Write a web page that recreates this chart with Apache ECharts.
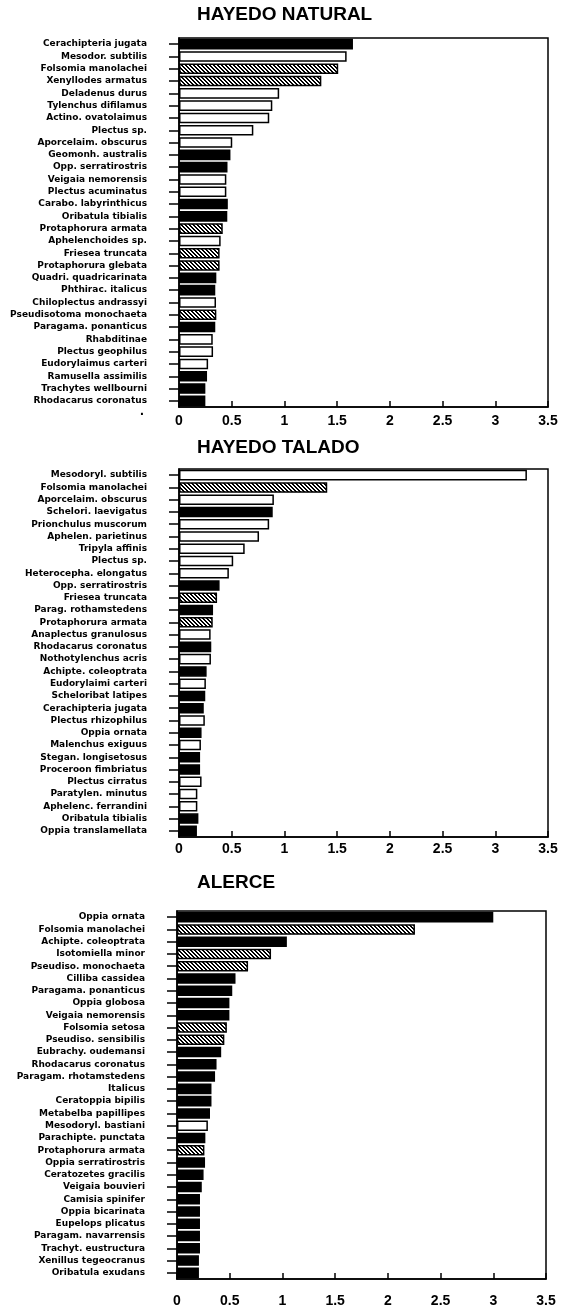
<!DOCTYPE html>
<html>
<head>
<meta charset="utf-8">
<script src="https://cdn.jsdelivr.net/npm/echarts@6/dist/echarts.min.js"></script>
<style>
  html, body { margin: 0; padding: 0; background: #fff; }
  #chart { width: 563px; height: 1310px; }
</style>
</head>
<body>
<div id="chart"></div>
<script>
// Fill codes: S = solid black, O = open (white), H = diagonal hatch
const natTitle = 'HAYEDO NATURAL';
const natNames = [
  'Cerachipteria jugata', 'Mesodor. subtilis', 'Folsomia manolachei', 'Xenyllodes armatus',
  'Deladenus durus', 'Tylenchus difilamus', 'Actino. ovatolaimus', 'Plectus sp.',
  'Aporcelaim. obscurus', 'Geomonh. australis', 'Opp. serratirostris', 'Veigaia nemorensis',
  'Plectus acuminatus', 'Carabo. labyrinthicus', 'Oribatula tibialis', 'Protaphorura armata',
  'Aphelenchoides sp.', 'Friesea truncata', 'Protaphorura glebata', 'Quadri. quadricarinata',
  'Phthirac. italicus', 'Chiloplectus andrassyi', 'Pseudisotoma monochaeta', 'Paragama. ponanticus',
  'Rhabditinae', 'Plectus geophilus', 'Eudorylaimus carteri', 'Ramusella assimilis',
  'Trachytes wellbourni', 'Rhodacarus coronatus'
];
const natValues = [
  1.65, 1.59, 1.51, 1.35, 0.95, 0.885, 0.856, 0.705, 0.505, 0.488, 0.46, 0.449,
  0.449, 0.463, 0.458, 0.415, 0.395, 0.385, 0.385, 0.354, 0.344, 0.351, 0.354, 0.344,
  0.32, 0.323, 0.276, 0.266, 0.25, 0.25
];
const natFills = ['S','O','H','H','O','O','O','O','O','S','S','O','O','S','S','H','O','H','H','S','S','O','H','S','O','O','O','S','S','S'];

const talTitle = 'HAYEDO TALADO';
const talNames = [
  'Mesodoryl. subtilis', 'Folsomia manolachei', 'Aporcelaim. obscurus', 'Schelori. laevigatus',
  'Prionchulus muscorum', 'Aphelen. parietinus', 'Tripyla affinis', 'Plectus sp.',
  'Heterocepha. elongatus', 'Opp. serratirostris', 'Friesea truncata', 'Parag. rothamstedens',
  'Protaphorura armata', 'Anaplectus granulosus', 'Rhodacarus coronatus', 'Nothotylenchus acris',
  'Achipte. coleoptrata', 'Eudorylaimi carteri', 'Scheloribat latipes', 'Cerachipteria jugata',
  'Plectus rhizophilus', 'Oppia ornata', 'Malenchus exiguus', 'Stegan. longisetosus',
  'Proceroon fimbriatus', 'Plectus cirratus', 'Paratylen. minutus', 'Aphelenc. ferrandini',
  'Oribatula tibialis', 'Oppia translamellata'
];
const talValues = [
  3.3, 1.406, 0.9, 0.889, 0.855, 0.759, 0.623, 0.514, 0.473, 0.385, 0.361, 0.323,
  0.32, 0.3, 0.306, 0.303, 0.262, 0.255, 0.249, 0.235, 0.245, 0.214, 0.208, 0.2,
  0.2, 0.214, 0.174, 0.174, 0.184, 0.17
];
const talFills = ['O','H','O','S','O','O','O','O','O','S','H','S','H','O','S','O','S','O','S','S','O','S','O','S','S','O','O','O','S','S'];

const aleTitle = 'ALERCE';
const aleNames = [
  'Oppia ornata', 'Folsomia manolachei', 'Achipte. coleoptrata', 'Isotomiella minor',
  'Pseudiso. monochaeta', 'Cilliba cassidea', 'Paragama. ponanticus', 'Oppia globosa',
  'Veigaia nemorensis', 'Folsomia setosa', 'Pseudiso. sensibilis', 'Eubrachy. oudemansi',
  'Rhodacarus coronatus', 'Paragam. rhotamstedens', 'Italicus', 'Ceratoppia bipilis',
  'Metabelba papillipes', 'Mesodoryl. bastiani', 'Parachipte. punctata', 'Protaphorura armata',
  'Oppia serratirostris', 'Ceratozetes gracilis', 'Veigaia bouvieri', 'Camisia spinifer',
  'Oppia bicarinata', 'Eupelops plicatus', 'Paragam. navarrensis', 'Trachyt. eustructura',
  'Xenillus tegeocranus', 'Oribatula exudans'
];
const aleValues = [
  3.0, 2.257, 1.042, 0.892, 0.674, 0.555, 0.524, 0.497, 0.497, 0.473, 0.449, 0.419,
  0.375, 0.361, 0.327, 0.327, 0.313, 0.293, 0.269, 0.26, 0.266, 0.252, 0.235, 0.218,
  0.218, 0.218, 0.218, 0.218, 0.208, 0.208
];
const aleFills = ['S','H','S','H','H','S','S','S','S','H','H','S','S','S','S','S','S','O','S','H','S','S','S','S','S','S','S','S','S','S'];

const xTicks = [0, 0.5, 1, 1.5, 2, 2.5, 3, 3.5];

// Crisp diagonal hatch tile: 2px black stripes running top-left to bottom-right, 4px pitch
const hatchTile = (function () {
  const n = 4;
  const c = document.createElement('canvas');
  c.width = n; c.height = n;
  const g = c.getContext('2d');
  g.fillStyle = '#fff';
  g.fillRect(0, 0, n, n);
  g.fillStyle = '#000';
  for (let y = 0; y < n; y++) {
    for (let x = 0; x < n; x++) {
      const d = ((x - y) % n + n) % n;
      if (d === 0 || d === 1) g.fillRect(x, y, 1, 1);
    }
  }
  return c;
})();

function fillStyle(code) {
  if (code === 'S') return '#000';
  if (code === 'O') return '#fff';
  return { image: hatchTile, repeat: 'repeat' };
}

const panels = [
  { title: natTitle, names: natNames, values: natValues, fills: natFills,
    left: 179, top: 38, height: 369, titleTop: 5, labelMargin: 7 },
  { title: talTitle, names: talNames, values: talValues, fills: talFills,
    left: 179, top: 469, height: 368, titleTop: 438, labelMargin: 5 },
  { title: aleTitle, names: aleNames, values: aleValues, fills: aleFills,
    left: 177, top: 911, height: 368, titleTop: 873, labelMargin: 15 }
];

const option = {
  backgroundColor: '#fff',
  animation: false,
  title: [],
  grid: [],
  xAxis: [],
  yAxis: [],
  series: [],
  graphic: [{
    type: 'text', left: 140, top: 404,
    style: { text: '.', font: 'bold 14px "Liberation Sans", Arial, sans-serif', fill: '#000' }
  }]
};

panels.forEach(function (p, i) {
  option.title.push({
    text: p.title, left: 197, top: p.titleTop, padding: 0,
    textStyle: { fontFamily: '"Liberation Sans", Arial, sans-serif', fontWeight: 'bold', fontSize: 19, color: '#000' }
  });
  option.grid.push({
    left: p.left, top: p.top, width: 369, height: p.height,
    show: true, borderColor: '#000', borderWidth: 1.5, backgroundColor: '#fff',
    outerBoundsMode: 'none', containLabel: false
  });
  option.xAxis.push({
    type: 'value', gridIndex: i, min: 0, max: 3.5, interval: 0.5,
    axisLine: { show: true, lineStyle: { color: '#000', width: 1.5 } },
    axisTick: { show: true, inside: true, length: 6, lineStyle: { color: '#000', width: 1.5 } },
    splitLine: { show: false },
    axisLabel: {
      margin: p.labelMargin, color: '#000', fontWeight: 'bold', fontSize: 14,
      fontFamily: '"Liberation Sans", Arial, sans-serif',
      formatter: function (v) { return xTicks.indexOf(v) >= 0 ? String(v) : ''; }
    }
  });
  option.yAxis.push({
    type: 'category', gridIndex: i, inverse: true, data: p.names,
    axisLine: { show: true, lineStyle: { color: '#000', width: 1.5 } },
    axisTick: { show: true, alignWithLabel: true, length: 10, lineStyle: { color: '#000', width: 1.5 } },
    axisLabel: {
      margin: 32, color: '#000', fontWeight: 'bold', fontSize: 9, interval: 0,
      fontFamily: '"DejaVu Sans", sans-serif'
    }
  });
  option.series.push({
    type: 'bar', xAxisIndex: i, yAxisIndex: i, barCategoryGap: '14%',
    data: p.values.map(function (v, k) {
      return {
        value: v,
        itemStyle: { color: fillStyle(p.fills[k]), borderColor: '#000', borderWidth: 1.5 }
      };
    })
  });
});

const chart = echarts.init(document.getElementById('chart'), null, { renderer: 'canvas' });
chart.setOption(option);
</script>
</body>
</html>
